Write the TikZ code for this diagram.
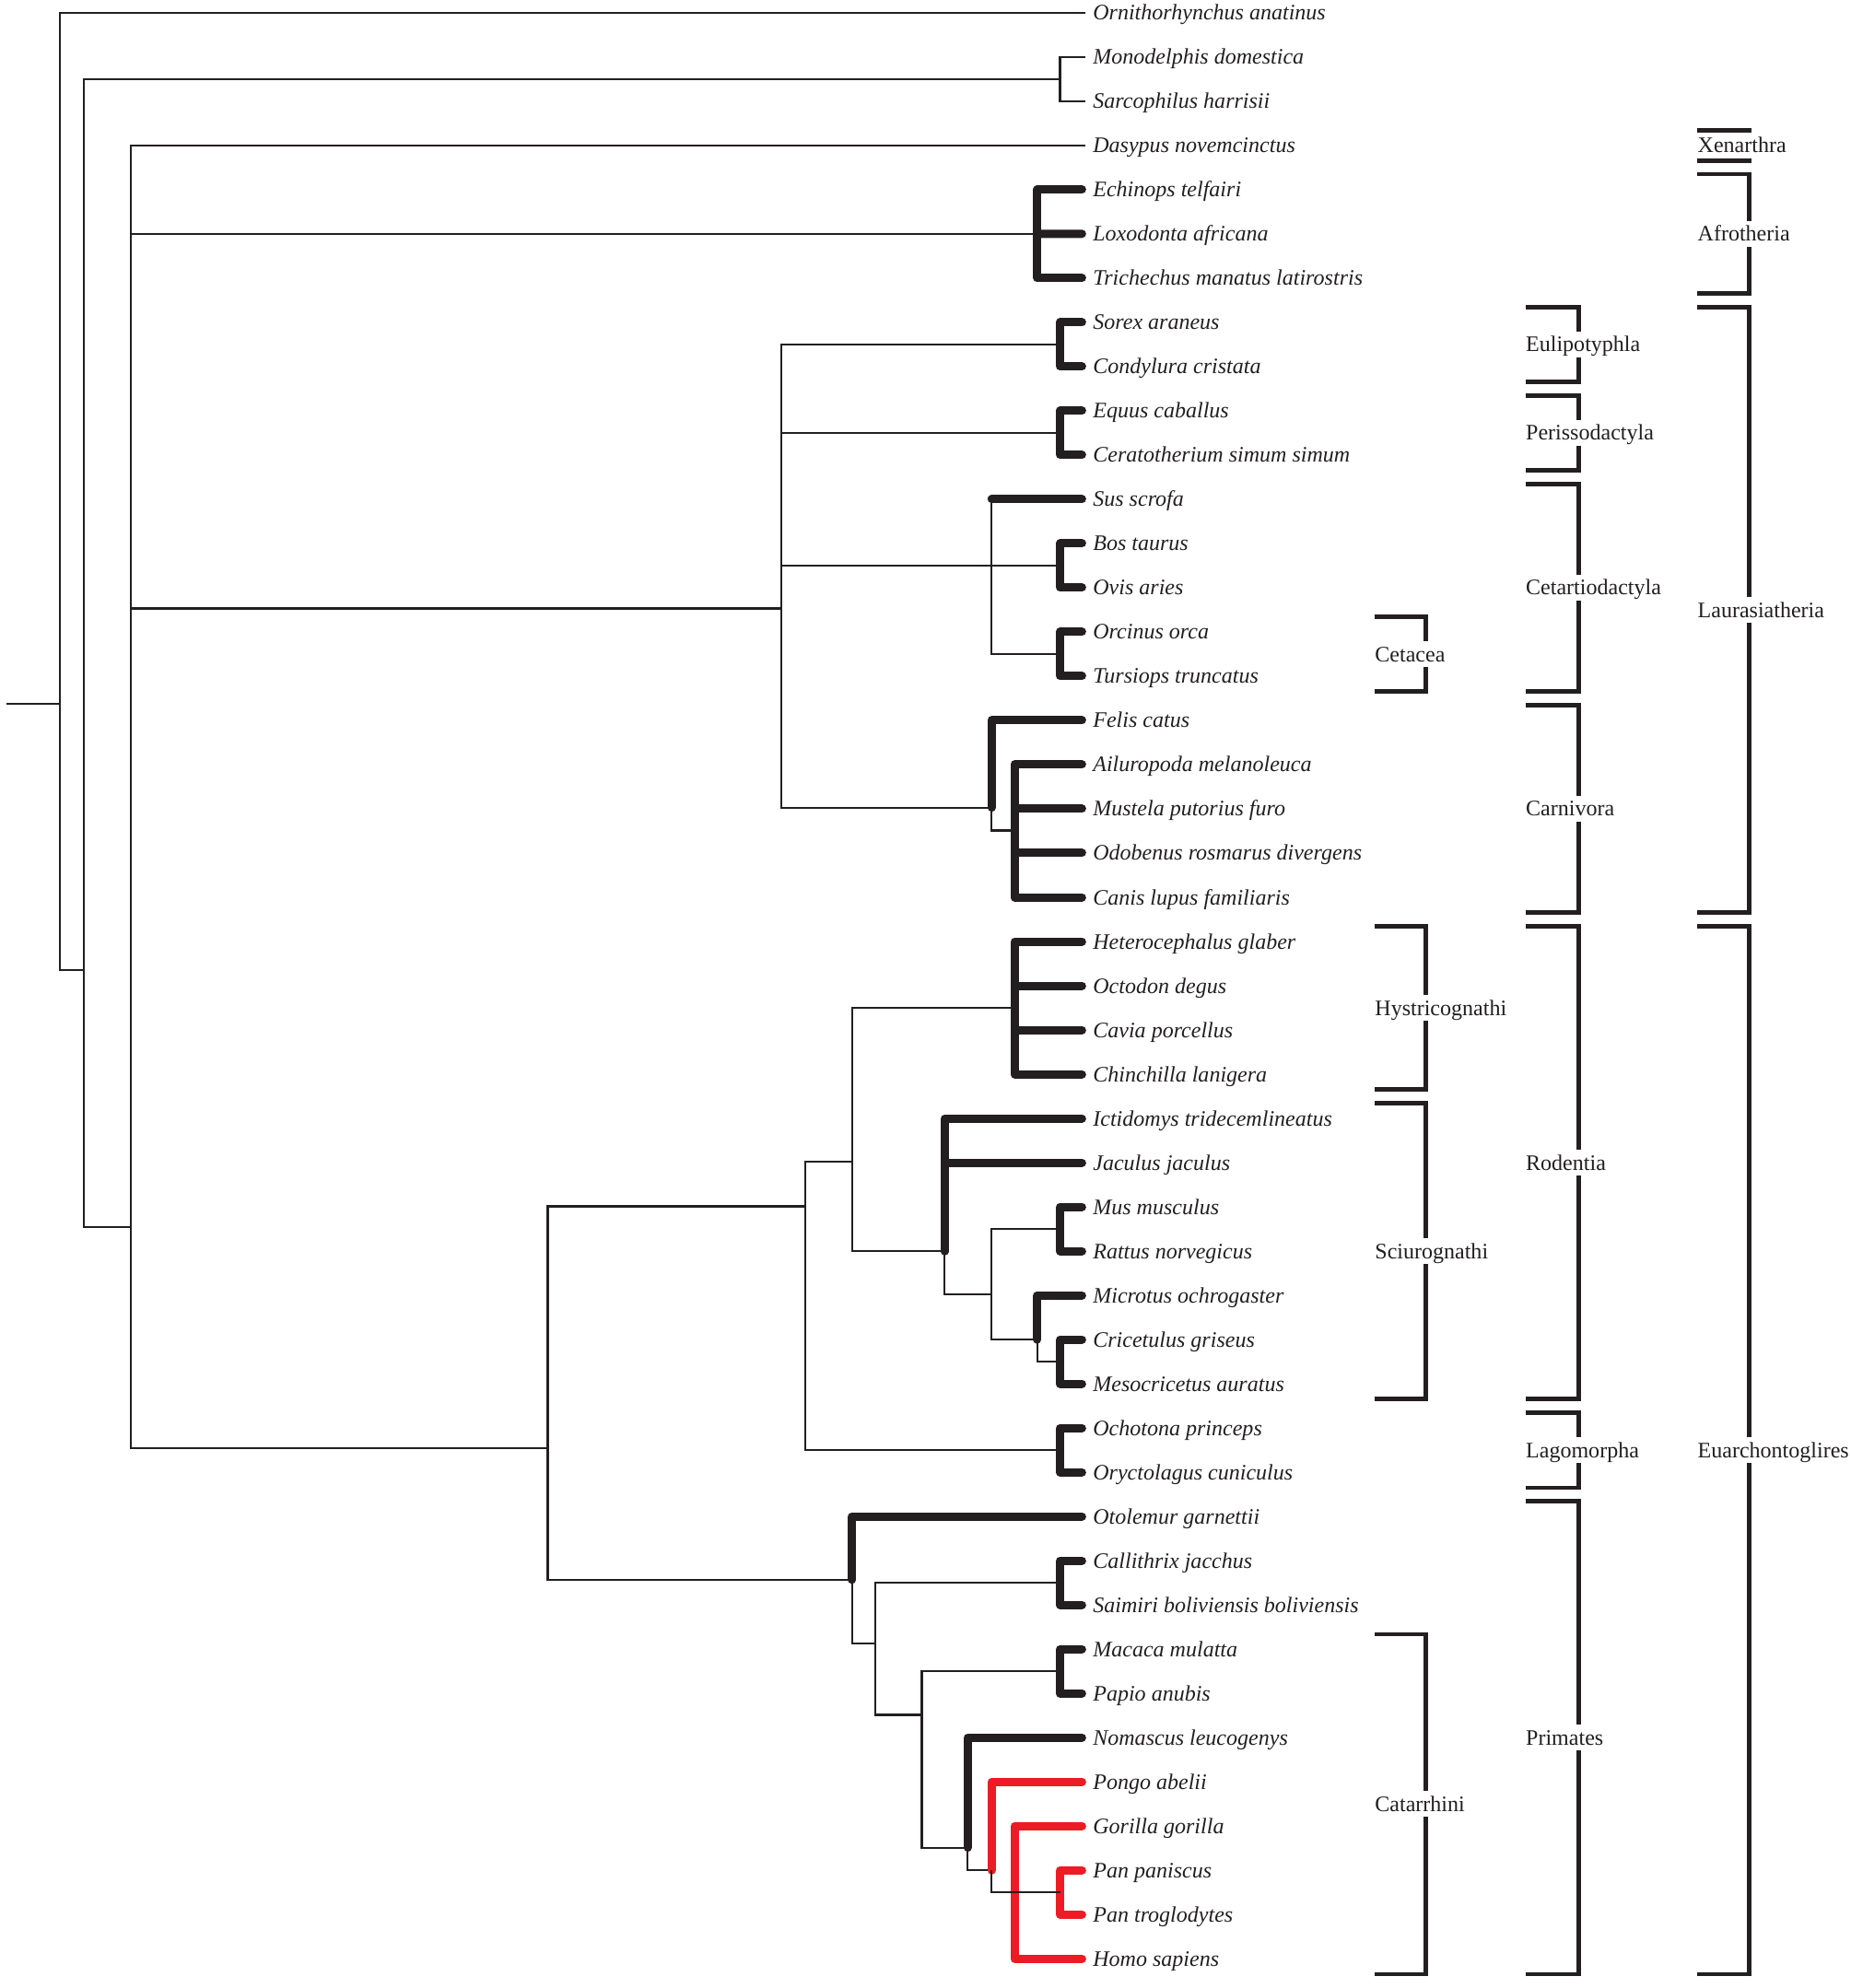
\documentclass[tikz,border=0pt]{standalone}
\usepackage{fontspec}
\setmainfont{Liberation Serif}
\usepackage{tikz}
\usetikzlibrary{positioning}
\definecolor{inkblack}{RGB}{35,31,32}
\definecolor{apered}{RGB}{237,28,36}

\begin{document}
\begin{tikzpicture}[x=0.55pt, y=-0.55pt, node distance=19.187pt]
	\tikzstyle{leaf}=[anchor=west, inner xsep=3.3pt, inner ysep=0pt, outer sep=0pt,
		text height=7.6pt, text depth=1.2pt, text=inkblack,
		font=\fontsize{9.6pt}{11pt}\selectfont\itshape]
	\tikzstyle{branch}=[draw=inkblack, line width=0.9pt]
	\tikzstyle{support}=[draw=inkblack, line width=3.6pt, line cap=round,
		line join=round, shorten >=1.5pt]
	\tikzstyle{apeline}=[support, draw=apered]
	\tikzstyle{clade}=[draw=inkblack, line width=1.8pt]
	\tikzstyle{group}=[anchor=west, fill=white, inner xsep=0pt, inner ysep=1.2pt,
		text height=7.6pt, text depth=1.2pt, text=inkblack,
		font=\fontsize{9.6pt}{11pt}\selectfont]
	\useasboundingbox (0,0) rectangle (1459,1568);
	% % Leaves
	\node[leaf] (orn) at (856,10) {Ornithorhynchus anatinus};
	\node[below=of orn.west, leaf] (mono) {Monodelphis domestica};
	\node[below=of mono.west, leaf] (sarc) {Sarcophilus harrisii};
	\node[below=of sarc.west, leaf] (dasy) {Dasypus novemcinctus};
	\node[below=of dasy.west, leaf] (echi) {Echinops telfairi};
	\node[below=of echi.west, leaf] (loxo) {Loxodonta africana};
	\node[below=of loxo.west, leaf] (tric) {Trichechus manatus latirostris};
	\node[below=of tric.west, leaf] (sore) {Sorex araneus};
	\node[below=of sore.west, leaf] (cond) {Condylura cristata};
	\node[below=of cond.west, leaf] (equu) {Equus caballus};
	\node[below=of equu.west, leaf] (cera) {Ceratotherium simum simum};
	\node[below=of cera.west, leaf] (susc) {Sus scrofa};
	\node[below=of susc.west, leaf] (bost) {Bos taurus};
	\node[below=of bost.west, leaf] (ovis) {Ovis aries};
	\node[below=of ovis.west, leaf] (orci) {Orcinus orca};
	\node[below=of orci.west, leaf] (turs) {Tursiops truncatus};
	\node[below=of turs.west, leaf] (feli) {Felis catus};
	\node[below=of feli.west, leaf] (ailu) {Ailuropoda melanoleuca};
	\node[below=of ailu.west, leaf] (must) {Mustela putorius furo};
	\node[below=of must.west, leaf] (odob) {Odobenus rosmarus divergens};
	\node[below=of odob.west, leaf] (cani) {Canis lupus familiaris};
	\node[below=of cani.west, leaf] (hete) {Heterocephalus glaber};
	\node[below=of hete.west, leaf] (octo) {Octodon degus};
	\node[below=of octo.west, leaf] (cavi) {Cavia porcellus};
	\node[below=of cavi.west, leaf] (chin) {Chinchilla lanigera};
	\node[below=of chin.west, leaf] (icti) {Ictidomys tridecemlineatus};
	\node[below=of icti.west, leaf] (jacu) {Jaculus jaculus};
	\node[below=of jacu.west, leaf] (musm) {Mus musculus};
	\node[below=of musm.west, leaf] (ratt) {Rattus norvegicus};
	\node[below=of ratt.west, leaf] (micr) {Microtus ochrogaster};
	\node[below=of micr.west, leaf] (cric) {Cricetulus griseus};
	\node[below=of cric.west, leaf] (meso) {Mesocricetus auratus};
	\node[below=of meso.west, leaf] (ocho) {Ochotona princeps};
	\node[below=of ocho.west, leaf] (oryc) {Oryctolagus cuniculus};
	\node[below=of oryc.west, leaf] (otol) {Otolemur garnettii};
	\node[below=of otol.west, leaf] (call) {Callithrix jacchus};
	\node[below=of call.west, leaf] (saim) {Saimiri boliviensis boliviensis};
	\node[below=of saim.west, leaf] (maca) {Macaca mulatta};
	\node[below=of maca.west, leaf] (papi) {Papio anubis};
	\node[below=of papi.west, leaf] (noma) {Nomascus leucogenys};
	\node[below=of noma.west, leaf] (pong) {Pongo abelii};
	\node[below=of pong.west, leaf] (gori) {Gorilla gorilla};
	\node[below=of gori.west, leaf] (ppan) {Pan paniscus};
	\node[below=of ppan.west, leaf] (ptro) {Pan troglodytes};
	\node[below=of ptro.west, leaf] (homo) {Homo sapiens};
	% % Inner nodes
	\coordinate (rootstub) at (5,555);
	\coordinate (root) at (47,555);
	\coordinate (theria) at (66,765);
	\coordinate (marsup) at (836,62.3);
	\coordinate (eutheria) at (103,968);
	\coordinate (afro) at (818,184.4);
	\coordinate (laura) at (616,480);
	\coordinate (eulip) at (836,271.6);
	\coordinate (periss) at (836,341.4);
	\coordinate (rumin) at (836,446.1);
	\coordinate (cetart) at (782,446.1);
	\coordinate (cetacea) at (836,515.9);
	\coordinate (carniv) at (782,637);
	\coordinate (caniform) at (800,655);
	\coordinate (euarch) at (432,1142);
	\coordinate (glires) at (635,951.5);
	\coordinate (rodentia) at (672,916);
	\coordinate (hystrico) at (800,794.9);
	\coordinate (sciuro) at (745,986.8);
	\coordinate (muroid) at (782,1021);
	\coordinate (murinae) at (836,969.4);
	\coordinate (cricetid) at (818,1056.6);
	\coordinate (crimeso) at (836,1074);
	\coordinate (lago) at (836,1143.8);
	\coordinate (primates) at (672,1246);
	\coordinate (anthropoid) at (690,1296);
	\coordinate (platyr) at (836,1248.5);
	\coordinate (catarr) at (727,1352.6);
	\coordinate (cercop) at (836,1318.3);
	\coordinate (hominoid) at (763,1457.3);
	\coordinate (hominid) at (782,1475.2);
	\coordinate (homininae) at (800,1492.6);
	\coordinate (panclade) at (836,1492.6);
	% % Branches
	% root, marsupials
	\draw[branch] (rootstub) -- (root);
	\draw[branch] (root) |- (orn.west);
	\draw[branch] (root) |- (theria);
	\draw[branch] (theria) |- (marsup);
	\draw[branch] (marsup) |- (mono.west);
	\draw[branch] (marsup) |- (sarc.west);
	\draw[branch] (theria) |- (eutheria);
	% Xenarthra, Afrotheria
	\draw[branch] (eutheria) |- (dasy.west);
	\draw[branch] (eutheria) |- (afro);
	\draw[support] (afro) |- (echi.west);
	\draw[support] (afro) -- (loxo.west);
	\draw[support] (afro) |- (tric.west);
	% Laurasiatheria
	\draw[branch] (eutheria) |- (laura);
	\draw[branch] (laura) |- (eulip);
	\draw[support] (eulip) |- (sore.west);
	\draw[support] (eulip) |- (cond.west);
	\draw[branch] (laura) |- (periss);
	\draw[support] (periss) |- (equu.west);
	\draw[support] (periss) |- (cera.west);
	\draw[branch] (laura) |- (rumin);
	\draw[support] (rumin) |- (bost.west);
	\draw[support] (rumin) |- (ovis.west);
	\draw[branch] (cetart) -- (cetart |- susc.west);
	\draw[support] (cetart |- susc.west) -- (susc.west);
	\draw[branch] (cetart) |- (cetacea);
	\draw[support] (cetacea) |- (orci.west);
	\draw[support] (cetacea) |- (turs.west);
	\draw[branch] (laura) |- (carniv);
	\draw[support] (carniv) |- (feli.west);
	\draw[branch] (carniv) |- (caniform);
	\draw[support] (caniform) |- (ailu.west);
	\draw[support] (caniform) |- (must.west);
	\draw[support] (caniform) |- (odob.west);
	\draw[support] (caniform) |- (cani.west);
	% Glires
	\draw[branch] (eutheria) |- (euarch);
	\draw[branch] (euarch) |- (glires);
	\draw[branch] (glires) |- (rodentia);
	\draw[branch] (rodentia) |- (hystrico);
	\draw[support] (hystrico) |- (hete.west);
	\draw[support] (hystrico) |- (octo.west);
	\draw[support] (hystrico) |- (cavi.west);
	\draw[support] (hystrico) |- (chin.west);
	\draw[branch] (rodentia) |- (sciuro);
	\draw[support] (sciuro) |- (icti.west);
	\draw[support] (sciuro) |- (jacu.west);
	\draw[branch] (sciuro) |- (muroid);
	\draw[branch] (muroid) |- (murinae);
	\draw[support] (murinae) |- (musm.west);
	\draw[support] (murinae) |- (ratt.west);
	\draw[branch] (muroid) |- (cricetid);
	\draw[support] (cricetid) |- (micr.west);
	\draw[branch] (cricetid) |- (crimeso);
	\draw[support] (crimeso) |- (cric.west);
	\draw[support] (crimeso) |- (meso.west);
	\draw[branch] (glires) |- (lago);
	\draw[support] (lago) |- (ocho.west);
	\draw[support] (lago) |- (oryc.west);
	% Primates
	\draw[branch] (euarch) |- (primates);
	\draw[support] (primates) |- (otol.west);
	\draw[branch] (primates) |- (anthropoid);
	\draw[branch] (anthropoid) |- (platyr);
	\draw[support] (platyr) |- (call.west);
	\draw[support] (platyr) |- (saim.west);
	\draw[branch] (anthropoid) |- (catarr);
	\draw[branch] (catarr) |- (cercop);
	\draw[support] (cercop) |- (maca.west);
	\draw[support] (cercop) |- (papi.west);
	\draw[branch] (catarr) |- (hominoid);
	\draw[support] (hominoid) |- (noma.west);
	\draw[branch] (hominoid) |- (hominid);
	\draw[apeline] (hominid) |- (pong.west);
	\draw[apeline] (homininae) |- (gori.west);
	\draw[apeline] (homininae) |- (homo.west);
	\draw[apeline] (panclade) |- (ppan.west);
	\draw[apeline] (panclade) |- (ptro.west);
	\draw[branch] (hominid) |- (panclade);
	% % Clade bars
	% inner column
	\draw[clade] (1084,486.4) -| (1124.5,545.3) -- (1084,545.3);
	\draw[clade] (1084,730.6) -| (1124.5,859.3) -- (1084,859.3);
	\draw[clade] (1084,870.2) -| (1124.5,1103.5) -- (1084,1103.5);
	\draw[clade] (1084,1288.8) -| (1124.5,1557) -- (1084,1557);
	\node[group] (lcetacea) at (1084,515.9) {Cetacea};
	\node[group] (lhystrico) at (1084,794.9) {Hystricognathi};
	\node[group] (lsciuro) at (1084,986.8) {Sciurognathi};
	\node[group] (lcatarr) at (1084,1422.9) {Catarrhini};
	% orders
	\draw[clade] (1203,242.2) -| (1245,301.1) -- (1203,301.1);
	\draw[clade] (1203,312) -| (1245,370.9) -- (1203,370.9);
	\draw[clade] (1203,381.8) -| (1245,545.3) -- (1203,545.3);
	\draw[clade] (1203,556.2) -| (1245,719.7) -- (1203,719.7);
	\draw[clade] (1203,730.6) -| (1245,1103.5) -- (1203,1103.5);
	\draw[clade] (1203,1114.4) -| (1245,1173.3) -- (1203,1173.3);
	\draw[clade] (1203,1184.1) -| (1245,1557) -- (1203,1557);
	\node[group] (leulip) at (1203,271.6) {Eulipotyphla};
	\node[group] (lperiss) at (1203,341.4) {Perissodactyla};
	\node[group] (lcetart) at (1203,463.5) {Cetartiodactyla};
	\node[group] (lcarniv) at (1203,637.9) {Carnivora};
	\node[group] (lrodentia) at (1203,917) {Rodentia};
	\node[group] (llago) at (1203,1143.8) {Lagomorpha};
	\node[group] (lprimates) at (1203,1370.6) {Primates};
	% superorders
	\draw[clade] (1338.5,102.7) -| (1379.5,126.7) -- (1338.5,126.7);
	\draw[clade] (1338.5,137.5) -| (1379.5,231.3) -- (1338.5,231.3);
	\draw[clade] (1338.5,242.2) -| (1379.5,719.7) -- (1338.5,719.7);
	\draw[clade] (1338.5,730.6) -| (1379.5,1557) -- (1338.5,1557);
	\node[group] (lxenar) at (1338.5,114.7) {Xenarthra};
	\node[group] (lafro) at (1338.5,184.4) {Afrotheria};
	\node[group] (llaura) at (1338.5,481) {Laurasiatheria};
	\node[group] (leuarch) at (1338.5,1143.8) {Euarchontoglires};
\end{tikzpicture}
\end{document}
